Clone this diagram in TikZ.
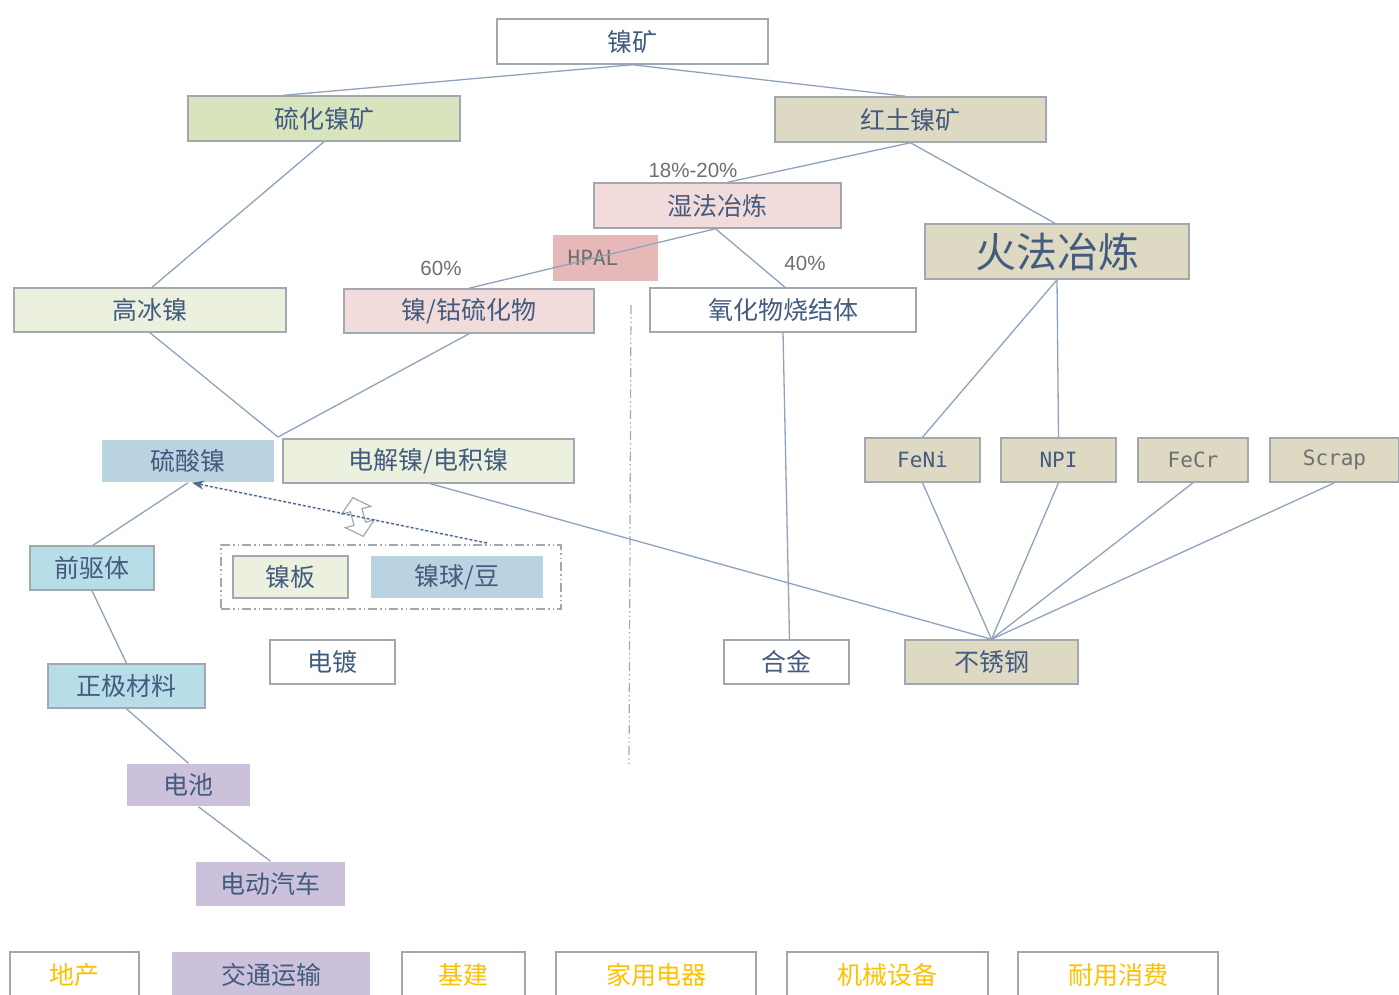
\documentclass[tikz,border=0pt]{standalone}
\usepackage{fontspec}
\setmainfont{Noto Sans CJK SC}
\newfontfamily\monof{DejaVu Sans Mono}
\newfontfamily\arialf{Liberation Sans}
\usetikzlibrary{calc,arrows.meta}
\definecolor{txtblue}{HTML}{435B7E}
\definecolor{boxgray}{HTML}{A3A8AE}
\definecolor{linecol}{HTML}{8FA3BC}
\definecolor{cGreen}{HTML}{D7E4BD}
\definecolor{cTan}{HTML}{DDD9C3}
\definecolor{cPink}{HTML}{F2DCDB}
\definecolor{cHpal}{HTML}{E6B9B8}
\definecolor{cLgreen}{HTML}{EBF1DE}
\definecolor{cSblue}{HTML}{B9D3E0}
\definecolor{cBlue}{HTML}{B7DDE8}
\definecolor{cLav}{HTML}{CCC1DA}
\definecolor{cYel}{HTML}{FFC000}
\definecolor{cGrayTxt}{HTML}{6F6F6F}
\definecolor{arrowcol}{HTML}{4F6B90}
\tikzset{
  box/.style={draw=boxgray, line width=1.5pt, inner sep=0pt, text=txtblue,
    font=\fontsize{25}{30}\selectfont},
  nobox/.style={box, draw=none},
  latin/.style={font=\monof\fontsize{21}{25}\selectfont},
  bottombox/.style={box, text=cYel, minimum height=46pt},
  conn/.style={draw=linecol, line width=1.3pt},
  pct/.style={inner sep=0pt, text=cGrayTxt, font=\arialf\fontsize{20.5}{24}\selectfont},
  dashdot/.style={draw=boxgray, line width=1.2pt, dash pattern=on 9pt off 3pt on 1.5pt off 3pt on 1.5pt off 3pt}
}
\begin{document}
\begin{tikzpicture}[x=1pt,y=-1pt]
\useasboundingbox (0,0) rectangle (1399,994);
\clip (0,0) rectangle (1399,994);
\fill[white] (0,0) rectangle (1399,994);

% top
\node[box, fill=white, minimum width=271pt, minimum height=45pt] (kuang) at (632.5,41.5) {镍矿};
\node[box, fill=cGreen, minimum width=272pt, minimum height=45pt] (liuhua) at (324,118.5) {硫化镍矿};
\node[box, fill=cTan, minimum width=271pt, minimum height=45pt] (hongtu) at (910.5,119.5) {红土镍矿};
\node[box, fill=cPink, minimum width=247pt, minimum height=45pt] (shifa) at (717.5,205.5) {湿法冶炼};
\node[nobox, fill=cHpal, text=cGrayTxt, latin, minimum width=105pt, minimum height=46pt] (hpal) at (605.5,258) {HPAL\hspace*{25pt}};
\node[box, fill=cTan, minimum width=264pt, minimum height=55pt, font=\fontsize{41}{46}\selectfont] (huofa) at (1057,251.5) {火法冶炼};

% second row
\node[box, fill=cLgreen, minimum width=272pt, minimum height=44pt] (gaobing) at (150,310) {高冰镍};
\node[box, fill=cPink, minimum width=250pt, minimum height=44pt] (niegu) at (469,311) {镍/钴硫化物};
\node[box, fill=white, minimum width=266pt, minimum height=44pt] (yanghua) at (783,310) {氧化物烧结体};

% third row
\node[nobox, fill=cSblue, minimum width=172pt, minimum height=42pt] (liusuan) at (188,461) {硫酸镍};
\node[box, fill=cLgreen, minimum width=291pt, minimum height=44pt] (dianjie) at (428.5,461) {电解镍/电积镍};
\node[box, fill=cTan, latin, minimum width=115pt, minimum height=44pt] (feni) at (922.5,460) {FeNi};
\node[box, fill=cTan, latin, minimum width=115pt, minimum height=44pt] (npi) at (1058.5,460) {NPI};
\node[box, fill=cTan, latin, text=cGrayTxt, minimum width=110pt, minimum height=44pt] (fecr) at (1193,460) {FeCr};
\node[box, fill=cTan, latin, text=cGrayTxt, minimum width=129pt, minimum height=44pt] (scrap) at (1334.5,460) {Scrap};

% left column
\node[box, fill=cBlue, minimum width=124pt, minimum height=44pt] (qianqu) at (92,568) {前驱体};
\node[box, fill=cBlue, minimum width=157pt, minimum height=44pt] (zhengji) at (126.5,686) {正极材料};
\node[nobox, fill=cLav, minimum width=123pt, minimum height=42pt] (dianchi) at (188.5,785) {电池};
\node[nobox, fill=cLav, minimum width=149pt, minimum height=44pt] (qiche) at (270.5,884) {电动汽车};

% dashed group
\node[draw=boxgray, line width=1.2pt, dash pattern=on 9pt off 3pt on 1.5pt off 3pt on 1.5pt off 3pt, minimum width=340pt, minimum height=64pt, inner sep=0pt] (grp) at (391,577) {};
\node[box, fill=cLgreen, minimum width=115pt, minimum height=42pt] (nieban) at (290.5,577) {镍板};
\node[nobox, fill=cSblue, minimum width=172pt, minimum height=42pt] (nieqiu) at (457,577) {镍球/豆};

\node[box, fill=white, minimum width=125pt, minimum height=44pt] (diandu) at (332.5,662) {电镀};
\node[box, fill=white, minimum width=125pt, minimum height=44pt] (hejin) at (786.5,662) {合金};
\node[box, fill=cTan, minimum width=173pt, minimum height=44pt] (buxiu) at (991.5,662) {不锈钢};

% bottom row
\node[bottombox, fill=white, minimum width=129pt] (dichan) at (74.5,975) {地产};
\node[nobox, fill=cLav, minimum width=198pt, minimum height=46pt] (jiaotong) at (271,975) {交通运输};
\node[bottombox, fill=white, minimum width=123pt] (jijian) at (463.5,975) {基建};
\node[bottombox, fill=white, minimum width=200pt] (jiadian) at (656,975) {家用电器};
\node[bottombox, fill=white, minimum width=201pt] (jixie) at (887.5,975) {机械设备};
\node[bottombox, fill=white, minimum width=200pt] (naiyong) at (1118,975) {耐用消费};

% percentage labels
\node[pct] (p1820) at (693,170) {18\%-20\%};
\node[pct] (p60) at (441,268) {60\%};
\node[pct] (p40) at (805,263) {40\%};

% coordinates
\coordinate (J) at (278,437);
\coordinate (arrS) at (487,543);
\coordinate (vtop) at (631,305);
\coordinate (vbot) at (629,765);

% connectors
\draw[conn] (kuang.south) -- ([xshift=-40pt]liuhua.north);
\draw[conn] (kuang.south) -- ([xshift=-5pt]hongtu.north);
\draw[conn] (hongtu.south) -- ([xshift=10pt]shifa.north);
\draw[conn] (hongtu.south) -- ([xshift=-2pt]huofa.north);
\draw[conn] ([xshift=-2pt]shifa.south) -- (niegu.north);
\draw[conn] ([xshift=-2pt]shifa.south) -- ([xshift=2pt]yanghua.north);
\draw[conn] (liuhua.south) -- ([xshift=2pt]gaobing.north);
\draw[conn] (gaobing.south) -- (J);
\draw[conn] (niegu.south) -- (J);
\draw[conn] (liusuan.south) -- ([xshift=1pt]qianqu.north);
\draw[conn] (qianqu.south) -- (zhengji.north);
\draw[conn] (zhengji.south) -- (dianchi.north);
\draw[conn] ([xshift=10pt]dianchi.south) -- (qiche.north);
\draw[conn] ([xshift=2pt]dianjie.south) -- (buxiu.north);
\draw[conn] (huofa.south) -- (feni.north);
\draw[conn] (huofa.south) -- (npi.north);
\draw[conn] (feni.south) -- (buxiu.north);
\draw[conn] (npi.south) -- (buxiu.north);
\draw[conn] (fecr.south) -- (buxiu.north);
\draw[conn] (scrap.south) -- (buxiu.north);
\draw[conn] (yanghua.south) -- ([xshift=3pt]hejin.north);

% vertical dash-dot separator
\draw[dashdot] (vtop) -- (vbot);

% up-down hollow arrow shape
\draw[draw=boxgray, line width=1.2pt, fill=white, rotate around={15:(358,517)}]
  (358,497) -- (373,510) -- (364,510) -- (364,524) -- (373,524) -- (358,537)
  -- (343,524) -- (352,524) -- (352,510) -- (343,510) -- cycle;

% arrow to nickel sulfate
\draw[draw=arrowcol, line width=1.5pt, densely dashed, -{Stealth[length=12pt,width=9pt]}] (arrS) -- ([xshift=4pt]liusuan.south);
\end{tikzpicture}
\end{document}
